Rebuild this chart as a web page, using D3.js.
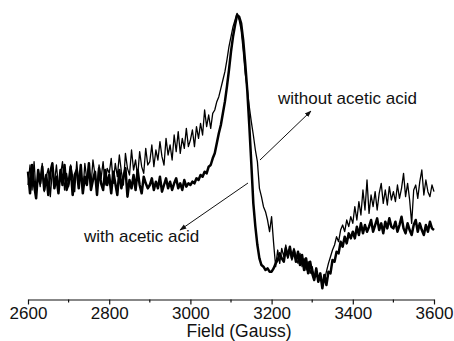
<!DOCTYPE html>
<html>
<head>
<meta charset="utf-8">
<script src="https://cdn.jsdelivr.net/npm/d3@7"></script>
<style>
  body { margin: 0; background: #fff; }
</style>
</head>
<body>
<svg id="chart-base"></svg>
<script>
// EPR spectra, field sweep in 5 G steps
var field = d3.range(2600, 3601, 5);

var withAcid = [
    5, -8, 9, -3, -11, 6, -2, 8, -6, 3, -9, 5, 10, -5, 2, -8, 6, -3, 9, -6,
    -2, 8, -9, 3, 6, -5, 9, -8, 2, -3, 10, -6, 0, 5, -9, 7, -2, -6, 6, -3,
    3, -8, 5, -2, -9, 6, -5, 2, 7, -10, 0, -5, 3, -6, 6, -3, -8, 2, -2, -5,
    -3, 1, -6, -1, -5, 2, -7, -3, 1, -5, -1, -6, -2, 1, -5, -2, -6, 0, -4, -2,
    -3, -1, -2, 1, 0, 3, 2, 5, 4, 8, 9, 13, 16, 22, 28, 33, 40, 47, 56, 66,
    77, 86, 93, 99, 98, 94, 84, 70, 54, 33, 10, -14, -28, -39, -47, -51, -52, -54, -53, -55,
    -55, -53, -50, -48, -44, -47, -49, -41, -46, -40, -47, -42, -49, -43, -51, -45, -54, -47, -56, -49,
    -56, -60, -53, -61, -56, -65, -57, -63, -55, -56, -48, -49, -43, -44, -37, -40, -34, -38, -32, -35,
    -31, -35, -28, -33, -26, -32, -27, -31, -28, -24, -31, -27, -23, -30, -26, -32, -25, -29, -23, -28,
    -29, -25, -31, -27, -22, -29, -32, -26, -30, -33, -27, -24, -31, -26, -30, -33, -27, -31, -25, -29, -30
];

var withoutAcid = [
    -3, 9, -6, 11, -8, 4, -4, 10, -7, 2, 7, -10, 6, -2, 9, -4, 3, 11, -6, 4,
    -4, 9, 2, -7, 11, -3, 6, -8, 10, 0, 7, -4, 12, 3, -5, 9, 1, 11, -3, 7,
    4, 13, -2, 10, 2, 15, 5, -3, 16, 7, 3, 18, 6, 12, 2, 17, 8, 4, 19, 9,
    11, 21, 8, 18, 12, 23, 14, 9, 25, 15, 21, 12, 27, 17, 29, 16, 25, 19, 31, 20,
    24, 30, 20, 32, 25, 34, 27, 42, 32, 39, 31, 40, 42, 47, 50, 55, 60, 65, 72, 80,
    86, 92, 96, 100, 96, 90, 78, 64, 55, 44, 35, 27, 18, 11, -5, -10, -16, -19, -24, -31,
    -22, -38, -52, -42, -50, -41, -46, -39, -47, -42, -48, -41, -46, -50, -44, -52, -47, -54, -49, -56,
    -52, -58, -55, -61, -57, -64, -60, -55, -50, -46, -42, -39, -34, -37, -30, -27, -31, -24, -28, -22,
    -26, -16, -24, -13, -21, -6, -18, 0, -20, -9, -16, -7, -18, -8, -2, -14, -6, -15, -4, -12,
    -7, -13, -3, -11, -5, 4, -10, -2, -12, -26, -6, -3, -11, -1, 6, -9, 0, -7, -10, -3, -7
];

var xTicks = [2600, 2800, 3000, 3200, 3400, 3600];
var xMinorTicks = [2700, 2900, 3100, 3300, 3500];

var w = 454;
var h = 341;
var plotLeft = 28, plotRight = 434;
var axisY = 299.5;

var x = d3.scaleLinear().domain([2600, 3600]).range([plotLeft, plotRight]);
var y = d3.scaleLinear().domain([-70, 100]).range([296.7, 13.3]);

function drawAxis(svgBase) {
    var axis = d3.axisBottom(x)
        .tickValues(xTicks)
        .tickSize(5)
        .tickSizeOuter(0)
        .tickPadding(2)
        .tickFormat(d3.format("d"));

    var g = svgBase.append("g")
        .attr("transform", "translate(0," + axisY + ")")
        .call(axis);
    g.select(".domain").attr("stroke", "#111").attr("stroke-width", 1.2);
    g.selectAll(".tick line").attr("stroke", "#111").attr("stroke-width", 1.2);
    g.selectAll(".tick text")
        .attr("fill", "#111")
        .style("font-family", "'Liberation Sans', Arial, sans-serif")
        .style("font-size", "17px");

    // minor ticks
    g.selectAll(".minor")
        .data(xMinorTicks)
        .enter().append("line")
        .attr("class", "minor")
        .attr("x1", function(d) { return x(d); })
        .attr("x2", function(d) { return x(d); })
        .attr("y1", 0)
        .attr("y2", 3)
        .attr("stroke", "#111")
        .attr("stroke-width", 1.2);

    drawText(svgBase, { x: (plotLeft + plotRight) / 2 + 8, y: 337 }, "Field (Gauss)", {
        color: "#111",
        fontSize: "17.5px",
        textAnchor: "middle"
    });
}

function drawSpectrum(svgBase, values, strokeWidth) {
    var pts = field.map(function(f, i) { return [f, values[i]]; });
    var line = d3.line()
        .x(function(d) { return x(d[0]); })
        .y(function(d) { return y(d[1]); });
    svgBase.append("path")
        .datum(pts)
        .attr("d", line)
        .attr("fill", "none")
        .attr("stroke", "#000")
        .attr("stroke-width", strokeWidth)
        .attr("stroke-linejoin", "round");
}

function drawText(svgBase, coordinate, text, config) {
    return svgBase.append("text")
        .attr("x", coordinate.x)
        .attr("y", coordinate.y)
        .style("text-anchor", config.textAnchor)
        .style("font-size", config.fontSize)
        .attr("font-family", "'Liberation Sans', Arial, sans-serif")
        .attr("fill", config.color)
        .text(text);
}

function drawArrow(svgBase, from, to) {
    svgBase.append("line")
        .attr("x1", from.x).attr("y1", from.y)
        .attr("x2", to.x).attr("y2", to.y)
        .attr("stroke", "#111")
        .attr("stroke-width", 1)
        .attr("marker-end", "url(#arrowhead)");
}

function draw() {
    var svgBase = d3.select("#chart-base")
        .attr("width", w)
        .attr("height", h);

    svgBase.append("defs").append("marker")
        .attr("id", "arrowhead")
        .attr("viewBox", "0 0 10 10")
        .attr("refX", 9).attr("refY", 5)
        .attr("markerWidth", 7).attr("markerHeight", 7)
        .attr("markerUnits", "userSpaceOnUse")
        .attr("orient", "auto")
        .append("path")
        .attr("d", "M0,1.5 L10,5 L0,8.5 Z")
        .attr("fill", "#111");

    drawSpectrum(svgBase, withoutAcid, 1.3);
    drawSpectrum(svgBase, withAcid, 2.5);

    drawAxis(svgBase);

    drawArrow(svgBase, { x: 260, y: 160 }, { x: 311, y: 111 });
    drawArrow(svgBase, { x: 248, y: 183 }, { x: 180, y: 230 });

    drawText(svgBase, { x: 278, y: 104 }, "without acetic acid", {
        color: "#111", fontSize: "17px", textAnchor: "start"
    });
    drawText(svgBase, { x: 84, y: 242 }, "with acetic acid", {
        color: "#111", fontSize: "17px", textAnchor: "start"
    });
}

draw();
</script>
</body>
</html>
